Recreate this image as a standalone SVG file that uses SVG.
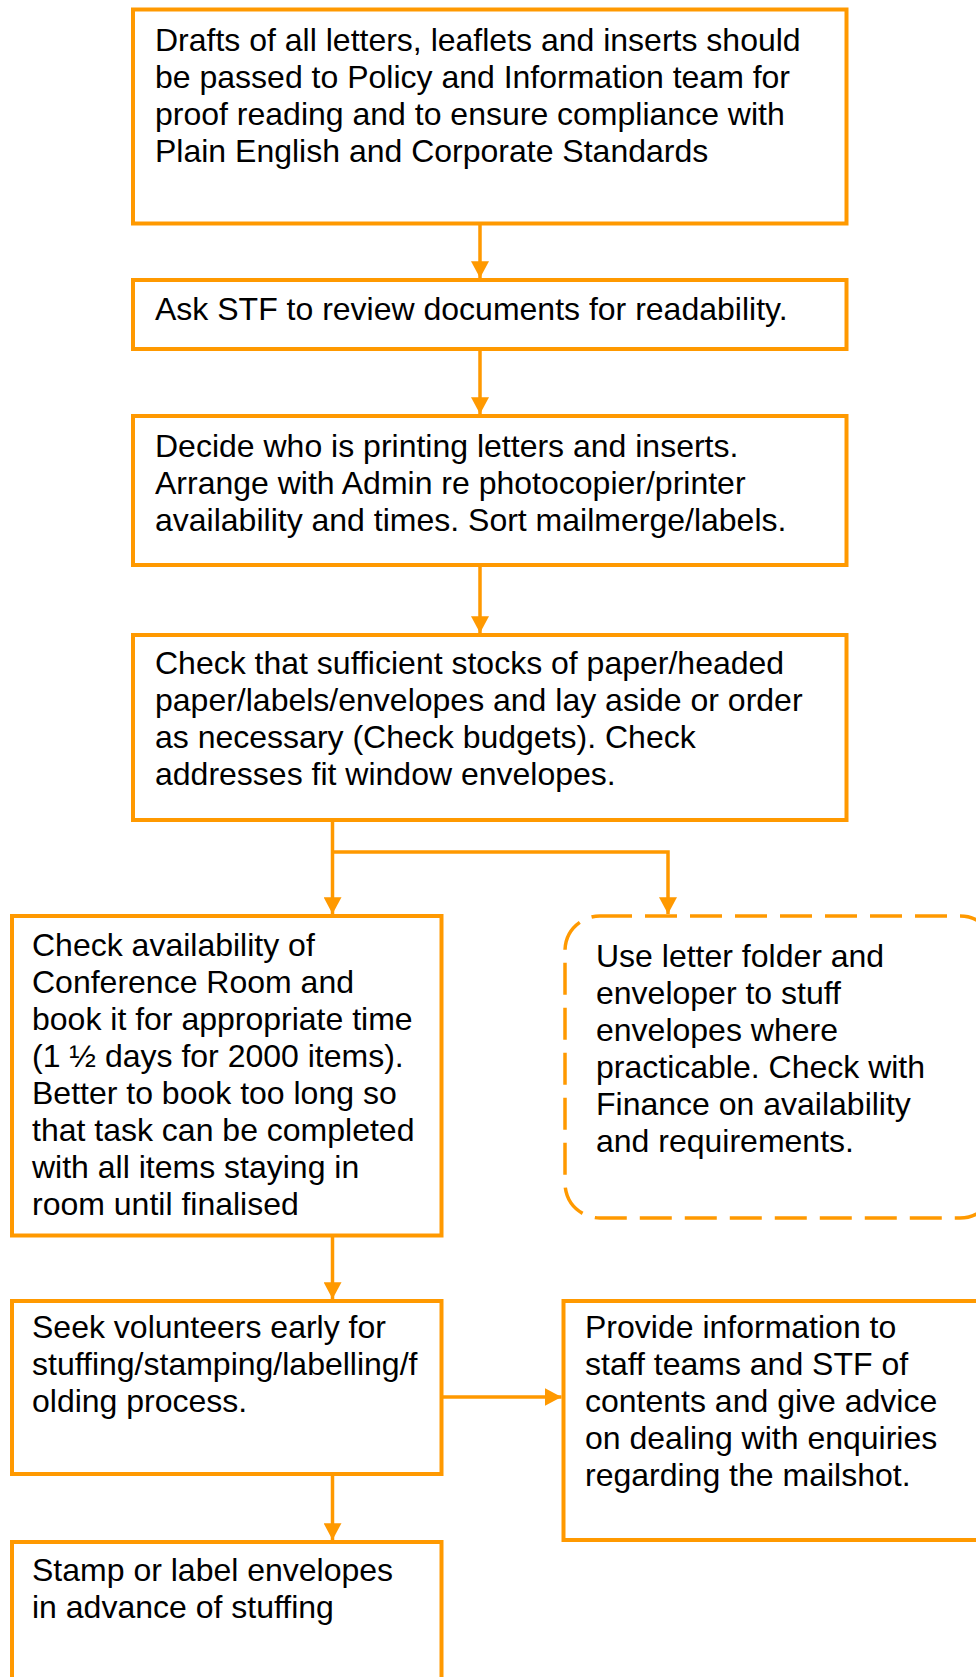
<svg xmlns="http://www.w3.org/2000/svg" width="976" height="1677" viewBox="0 0 976 1677">
<style>
.box{fill:#fff;stroke:#FF9900;stroke-width:4}
.dash{fill:#fff;stroke:#FF9900;stroke-width:3.5;stroke-dasharray:32 13}
.t{font-family:"Liberation Sans",Arial,sans-serif;font-size:32px;fill:#000}
.c{fill:none;stroke:#FF9900;stroke-width:3.5}
</style>
<defs>
<marker id="ah" markerUnits="userSpaceOnUse" markerWidth="18" markerHeight="18" viewBox="0 0 16 16" refX="15" refY="8" orient="auto">
<path d="M0,0 L15,8 L0,16 Z" fill="#FF9900"/>
</marker>
</defs>
<rect width="976" height="1677" fill="#fff"/>
<g id="connectors">
<line class="c" x1="480" y1="223.5" x2="480" y2="278" marker-end="url(#ah)"/>
<line class="c" x1="480" y1="349" x2="480" y2="414" marker-end="url(#ah)"/>
<line class="c" x1="480" y1="565" x2="480" y2="633" marker-end="url(#ah)"/>
<line class="c" x1="332.5" y1="820" x2="332.5" y2="914" marker-end="url(#ah)"/>
<polyline class="c" points="332.5,852 668,852 668,914" marker-end="url(#ah)"/>
<line class="c" x1="332.5" y1="1235.5" x2="332.5" y2="1299" marker-end="url(#ah)"/>
<line class="c" x1="441.5" y1="1397" x2="561.5" y2="1397" marker-end="url(#ah)"/>
<line class="c" x1="332.5" y1="1474" x2="332.5" y2="1540" marker-end="url(#ah)"/>
</g>
<g id="n1">
<rect class="box" x="133" y="9.5" width="713.5" height="214"/>
<text class="t" x="155" y="50.5">Drafts of all letters, leaflets and inserts should</text>
<text class="t" x="155" y="87.5">be passed to Policy and Information team for</text>
<text class="t" x="155" y="124.5">proof reading and to ensure compliance with</text>
<text class="t" x="155" y="161.5">Plain English and Corporate Standards</text>
</g>
<g id="n2">
<rect class="box" x="133" y="280" width="713.5" height="69"/>
<text class="t" x="155" y="320">Ask STF to review documents for readability.</text>
</g>
<g id="n3">
<rect class="box" x="133" y="416" width="713.5" height="149"/>
<text class="t" x="155" y="457">Decide who is printing letters and inserts.</text>
<text class="t" x="155" y="494">Arrange with Admin re photocopier/printer</text>
<text class="t" x="155" y="531">availability and times. Sort mailmerge/labels.</text>
</g>
<g id="n4">
<rect class="box" x="133" y="635" width="713.5" height="185"/>
<text class="t" x="155" y="674">Check that sufficient stocks of paper/headed</text>
<text class="t" x="155" y="711">paper/labels/envelopes and lay aside or order</text>
<text class="t" x="155" y="748">as necessary (Check budgets). Check</text>
<text class="t" x="155" y="785">addresses fit window envelopes.</text>
</g>
<g id="n5">
<rect class="box" x="12" y="916" width="429.5" height="319.5"/>
<text class="t" x="32" y="956">Check availability of</text>
<text class="t" x="32" y="993">Conference Room and</text>
<text class="t" x="32" y="1030">book it for appropriate time</text>
<text class="t" x="32" y="1067">(1 ½ days for 2000 items).</text>
<text class="t" x="32" y="1104">Better to book too long so</text>
<text class="t" x="32" y="1141">that task can be completed</text>
<text class="t" x="32" y="1178">with all items staying in</text>
<text class="t" x="32" y="1215">room until finalised</text>
</g>
<g id="n6">
<rect class="dash" x="565" y="916" width="430" height="302" rx="35" ry="35"/>
<text class="t" x="596" y="967">Use letter folder and</text>
<text class="t" x="596" y="1004">enveloper to stuff</text>
<text class="t" x="596" y="1041">envelopes where</text>
<text class="t" x="596" y="1078">practicable. Check with</text>
<text class="t" x="596" y="1115">Finance on availability</text>
<text class="t" x="596" y="1152">and requirements.</text>
</g>
<g id="n7">
<rect class="box" x="12" y="1301" width="429.5" height="173"/>
<text class="t" x="32" y="1338">Seek volunteers early for</text>
<text class="t" x="32" y="1375">stuffing/stamping/labelling/f</text>
<text class="t" x="32" y="1412">olding process.</text>
</g>
<g id="n8">
<rect class="box" x="563.5" y="1301" width="430" height="239"/>
<text class="t" x="585" y="1338">Provide information to</text>
<text class="t" x="585" y="1375">staff teams and STF of</text>
<text class="t" x="585" y="1412">contents and give advice</text>
<text class="t" x="585" y="1449">on dealing with enquiries</text>
<text class="t" x="585" y="1486">regarding the mailshot.</text>
</g>
<g id="n9">
<rect class="box" x="12" y="1542" width="429.5" height="150"/>
<text class="t" x="32" y="1581">Stamp or label envelopes</text>
<text class="t" x="32" y="1618">in advance of stuffing</text>
</g>
</svg>
